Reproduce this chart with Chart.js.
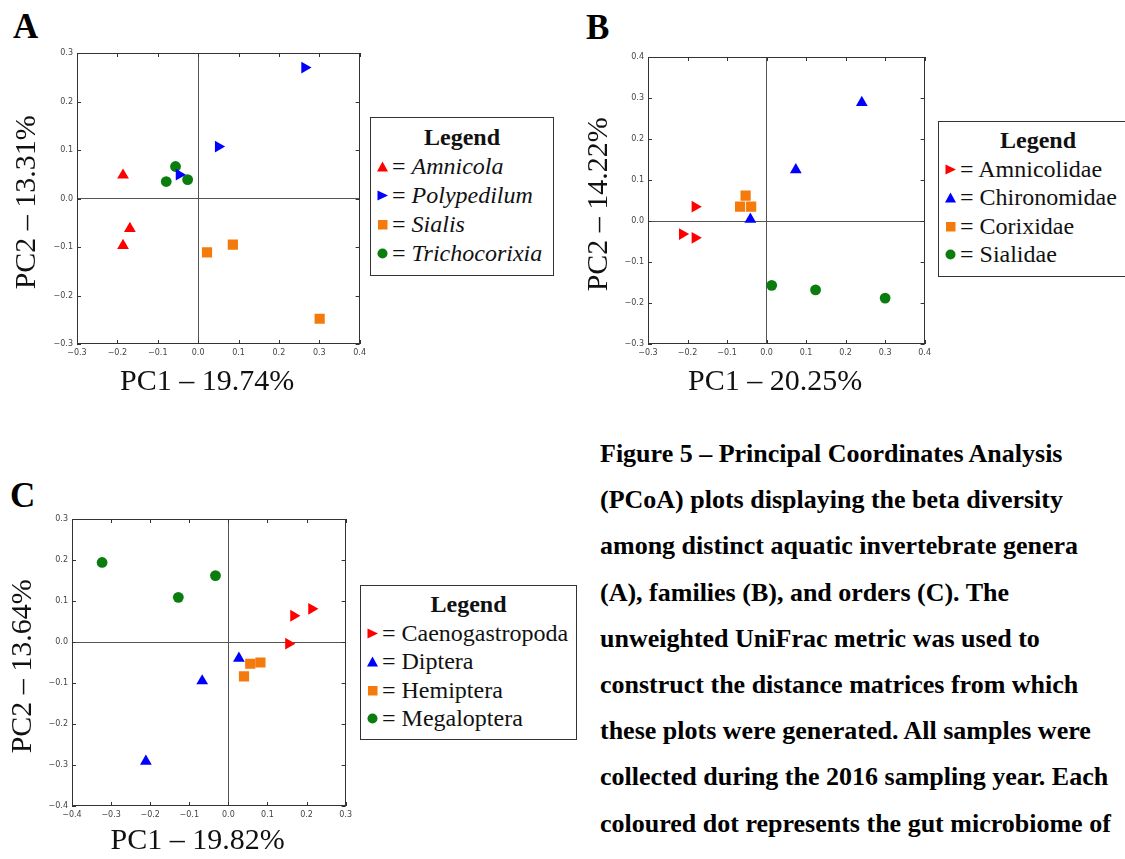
<!DOCTYPE html>
<html>
<head>
<meta charset="utf-8">
<script src="https://cdn.jsdelivr.net/npm/chart.js@4.4.1/dist/chart.umd.min.js"></script>
<style>
  body { margin: 0; width: 1125px; height: 859px; overflow: hidden; background: #fff; position: relative; }
  canvas { position: absolute; }
  .panel { position: absolute; font: bold 35px "Liberation Serif", "Times New Roman", serif; line-height: 35px; color: #000; }
  .legend { position: absolute; border: 1.5px solid #333; box-sizing: border-box; font: 24px "Liberation Serif", "Times New Roman", serif; line-height: 29px; color: #111; padding: 5px 0 0 6px; white-space: nowrap; }
  .legend .ttl { font-weight: bold; text-align: center; padding-right: 6px; }
  .legend svg { vertical-align: 2px; margin-right: 4px; }
  .caption { position: absolute; left: 600px; top: 431px; font: bold 26px "Liberation Serif", "Times New Roman", serif; line-height: 46.2px; color: #000; white-space: nowrap; }
</style>
</head>
<body>

<div class="panel" style="left:13px; top:9px;">A</div>
<div class="panel" style="left:586px; top:10px;">B</div>
<div class="panel" style="left:10px; top:478px;">C</div>

<canvas id="chartA" width="370" height="360" style="left:0; top:40px;"></canvas>
<canvas id="chartB" width="360" height="360" style="left:575px; top:40px;"></canvas>
<canvas id="chartC" width="356" height="359" style="left:0; top:500px;"></canvas>

<div class="legend" id="legendA" style="left:370px; top:117px; width:184px; height:159px;"></div>
<div class="legend" id="legendB" style="left:938px; top:121px; width:200px; height:156px; line-height:28.5px; padding-top:4px;"></div>
<div class="legend" id="legendC" style="left:360px; top:585px; width:217px; height:155px; line-height:28.5px; padding-top:4px;"></div>

<div class="caption">
Figure 5 – Principal Coordinates Analysis<br>
(PCoA) plots displaying the beta diversity<br>
among distinct aquatic invertebrate genera<br>
(A), families (B), and orders (C). The<br>
unweighted UniFrac metric was used to<br>
construct the distance matrices from which<br>
these plots were generated. All samples were<br>
collected during the 2016 sampling year. Each<br>
coloured dot represents the gut microbiome of
</div>

<script>
// ---- panel A: genera ----
let aNames = ['Amnicola', 'Polypedilum', 'Sialis', 'Trichocorixia'];
let amnicola = [[-0.186, 0.048], [-0.169, -0.062], [-0.186, -0.097]];
let polypedilum = [[0.264, 0.270], [0.050, 0.107], [-0.047, 0.049]];
let sialis = [[0.022, -0.111], [0.086, -0.095], [0.301, -0.248]];
let trichocorixia = [[-0.056, 0.066], [-0.079, 0.035], [-0.026, 0.039]];
let aTicksX = [-0.3, -0.2, -0.1, 0.0, 0.1, 0.2, 0.3, 0.4];
let aTicksY = [-0.3, -0.2, -0.1, 0.0, 0.1, 0.2, 0.3];

// ---- panel B: families ----
let bNames = ['Amnicolidae', 'Chironomidae', 'Corixidae', 'Sialidae'];
let amnicolidae = [[-0.181, 0.035], [-0.213, -0.032], [-0.181, -0.041]];
let chironomidae = [[0.241, 0.289], [0.074, 0.125], [-0.041, 0.004]];
let corixidae = [[-0.053, 0.062], [-0.067, 0.035], [-0.039, 0.035]];
let sialidae = [[0.013, -0.157], [0.124, -0.168], [0.300, -0.188]];
let bTicksX = [-0.3, -0.2, -0.1, 0.0, 0.1, 0.2, 0.3, 0.4];
let bTicksY = [-0.3, -0.2, -0.1, 0.0, 0.1, 0.2, 0.3, 0.4];

// ---- panel C: orders ----
let cNames = ['Caenogastropoda', 'Diptera', 'Hemiptera', 'Megaloptera'];
let caenogastropoda = [[0.167, 0.064], [0.213, 0.081], [0.154, -0.004]];
let diptera = [[0.027, -0.040], [-0.067, -0.095], [-0.211, -0.291]];
let hemiptera = [[0.056, -0.053], [0.082, -0.050], [0.040, -0.084]];
let megaloptera = [[-0.323, 0.194], [-0.128, 0.109], [-0.033, 0.162]];
let cTicksX = [-0.4, -0.3, -0.2, -0.1, 0.0, 0.1, 0.2, 0.3];
let cTicksY = [-0.4, -0.3, -0.2, -0.1, 0.0, 0.1, 0.2, 0.3];

let RED = '#ff0000', BLUE = '#0000ff', ORANGE = '#f47a0c', GREEN = '#0b7d0e';

// marker looks: up triangle, right triangle, square, circle
let markers = {
    up:     {pointStyle: 'triangle', radius: 6.8, rotation: 0},
    right:  {pointStyle: 'triangle', radius: 6.8, rotation: 90},
    square: {pointStyle: 'rect', radius: 7.2, rotation: 0},
    circle: {pointStyle: 'circle', radius: 5.4, rotation: 0}
};

function toPoints(pairs) {
    return pairs.map(p => ({x: p[0], y: p[1]}));
}

function makeSet(name, pairs, color, mk) {
    let m = markers[mk];
    return {
        label: name,
        data: toPoints(pairs),
        backgroundColor: color,
        borderWidth: 0,
        pointStyle: m.pointStyle,
        pointRadius: m.radius,
        pointRotation: m.rotation,
        pointHoverRadius: m.radius
    };
}

// inward ticks on all four sides + the box
let frameTicks = {
    id: 'frameTicks',
    beforeDatasetsDraw(chart) {
        let ctx = chart.ctx, a = chart.chartArea, x = chart.scales.x, y = chart.scales.y;
        ctx.save();
        ctx.strokeStyle = '#333';
        ctx.lineWidth = 1;
        ctx.beginPath();
        x.ticks.forEach(t => {
            let px = Math.round(x.getPixelForValue(t.value)) + 0.5;
            ctx.moveTo(px, a.top); ctx.lineTo(px, a.top + 4);
            ctx.moveTo(px, a.bottom); ctx.lineTo(px, a.bottom - 4);
        });
        y.ticks.forEach(t => {
            let py = Math.round(y.getPixelForValue(t.value)) + 0.5;
            ctx.moveTo(a.left, py); ctx.lineTo(a.left + 4, py);
            ctx.moveTo(a.right, py); ctx.lineTo(a.right - 4, py);
        });
        ctx.stroke();
        ctx.strokeRect(Math.round(a.left) + 0.5, Math.round(a.top) + 0.5, Math.round(a.width) - 1, Math.round(a.height) - 1);
        ctx.restore();
    }
};

function fmt(v) {
    if (Math.abs(v) < 1e-9) v = 0;
    return v.toFixed(1).replace('-', '\u2212');
}

function axis(ticks, title, titlePad, size, isY) {
    return {
        type: 'linear',
        min: ticks[0],
        max: ticks[ticks.length - 1],
        afterFit: function(scale) {
            if (isY) scale.width = size; else scale.height = size;
        },
        ticks: {
            stepSize: 0.1,
            padding: 4,
            color: '#444',
            font: {family: 'DejaVu Sans', size: 8},
            maxRotation: 0,
            callback: v => fmt(v)
        },
        grid: {
            drawTicks: false,
            lineWidth: 1,
            color: c => (c.tick && Math.abs(c.tick.value) < 1e-9) ? '#555' : 'rgba(0,0,0,0)'
        },
        border: {display: false},
        title: {
            display: true,
            text: title,
            color: '#111',
            padding: titlePad,
            font: {family: "'Liberation Serif', 'Times New Roman', serif", size: 30, weight: 'normal'}
        }
    };
}

// the source titles sit a little off-centre; trailing no-break spaces nudge them
let NB = '\u00a0';

function makePlot(id, sets, ticksX, ticksY, xTitle, yTitle, layout) {
    return new Chart(document.getElementById(id).getContext('2d'), {
        type: 'scatter',
        data: {datasets: sets},
        options: {
            responsive: false,
            animation: false,
            events: [],
            layout: {padding: layout.pad},
            plugins: {legend: {display: false}, tooltip: {enabled: false}},
            scales: {
                x: axis(ticksX, xTitle + NB + NB + NB, {top: 0, bottom: 0}, layout.xh, false),
                y: axis(ticksY, yTitle + NB, {top: layout.yPad, bottom: 0}, layout.yw, true)
            }
        },
        plugins: [frameTicks]
    });
}

makePlot('chartA', [
    makeSet(aNames[0], amnicola, RED, 'up'),
    makeSet(aNames[1], polypedilum, BLUE, 'right'),
    makeSet(aNames[2], sialis, ORANGE, 'square'),
    makeSet(aNames[3], trichocorixia, GREEN, 'circle')
], aTicksX, aTicksY, 'PC1 \u2013 19.74%', 'PC2 \u2013 13.31%',
    {pad: {left: 0, top: 13, right: 10, bottom: 0}, xh: 56, yw: 77, yPad: 9});

makePlot('chartB', [
    makeSet(bNames[0], amnicolidae, RED, 'right'),
    makeSet(bNames[1], chironomidae, BLUE, 'up'),
    makeSet(bNames[2], corixidae, ORANGE, 'square'),
    makeSet(bNames[3], sialidae, GREEN, 'circle')
], bTicksX, bTicksY, 'PC1 \u2013 20.25%', 'PC2 \u2013 14.22%',
    {pad: {left: 0, top: 17, right: 7, bottom: 0}, xh: 56, yw: 73, yPad: 6});

makePlot('chartC', [
    makeSet(cNames[0], caenogastropoda, RED, 'right'),
    makeSet(cNames[1], diptera, BLUE, 'up'),
    makeSet(cNames[2], hemiptera, ORANGE, 'square'),
    makeSet(cNames[3], megaloptera, GREEN, 'circle')
], cTicksX, cTicksY, 'PC1 \u2013 19.82%', 'PC2 \u2013 13.64%',
    {pad: {left: 0, top: 19, right: 7, bottom: 0}, xh: 53, yw: 72, yPad: 5});

// html legends
let icons = {
    up: c => '<svg width="11" height="11"><polygon points="5.5,0.5 11,10.5 0,10.5" fill="' + c + '"/></svg>',
    right: c => '<svg width="11" height="11"><polygon points="0.5,0.5 11,5.5 0.5,10.5" fill="' + c + '"/></svg>',
    square: c => '<svg width="11" height="11"><rect x="1" y="1" width="9.5" height="9.5" fill="' + c + '"/></svg>',
    circle: c => '<svg width="11" height="11"><circle cx="5.5" cy="5.5" r="5" fill="' + c + '"/></svg>'
};

function fillLegend(id, names, colors, kinds, italic) {
    let html = '<div class="ttl">Legend</div>';
    names.forEach((n, i) => {
        let txt = italic ? '<i>' + n + '</i>' : n;
        html += '<div>' + icons[kinds[i]](colors[i]) + '= ' + txt + '</div>';
    });
    document.getElementById(id).innerHTML = html;
}

fillLegend('legendA', aNames, [RED, BLUE, ORANGE, GREEN], ['up', 'right', 'square', 'circle'], true);
fillLegend('legendB', bNames, [RED, BLUE, ORANGE, GREEN], ['right', 'up', 'square', 'circle'], false);
fillLegend('legendC', cNames, [RED, BLUE, ORANGE, GREEN], ['right', 'up', 'square', 'circle'], false);
</script>
</body>
</html>
